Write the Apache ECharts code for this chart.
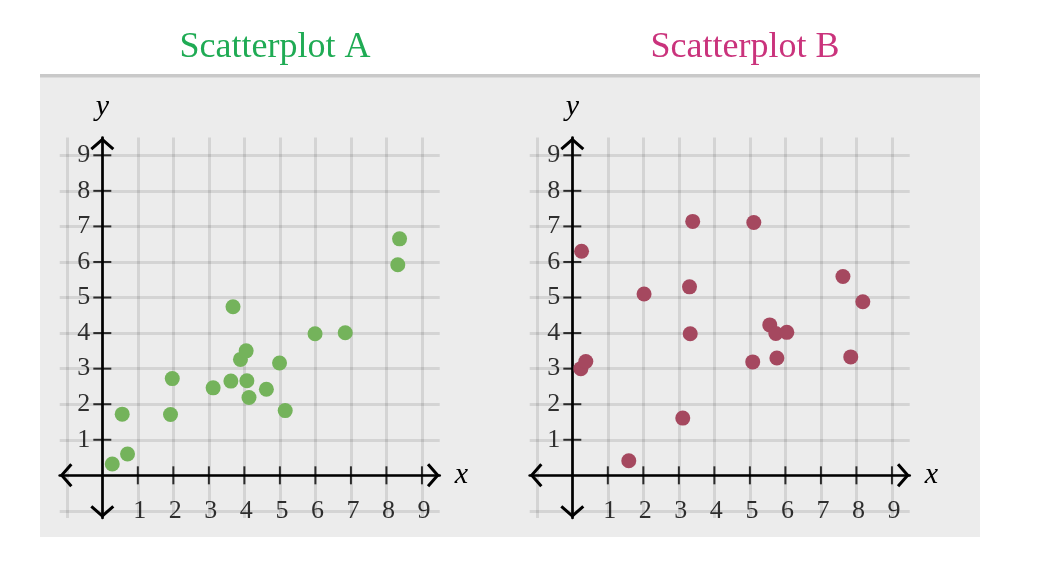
<!DOCTYPE html>
<html><head><meta charset="utf-8">
<script src="https://cdn.jsdelivr.net/npm/echarts@6/dist/echarts.min.js"></script>
<style>html,body{margin:0;padding:0;background:#fff}#c{width:1052px;height:578px}</style>
</head><body><div id="c"></div><script>
// ---- data ----
const titles = ['Scatterplot A', 'Scatterplot B'];
const gridTicks = [-1, 0, 1, 2, 3, 4, 5, 6, 7, 8, 9];
const tickLabels = [1, 2, 3, 4, 5, 6, 7, 8, 9];
const pointsA = [
  [0.28, 0.32], [0.71, 0.60], [0.56, 1.72], [1.92, 1.71], [1.97, 2.72],
  [3.12, 2.46], [3.62, 2.65], [3.68, 4.74], [3.89, 3.26], [4.05, 3.50],
  [4.07, 2.66], [4.13, 2.19], [4.62, 2.42], [4.99, 3.16], [5.15, 1.82],
  [5.99, 3.98], [6.84, 4.01], [8.32, 5.92], [8.37, 6.65]
];
const pointsB = [
  [0.26, 6.30], [0.24, 3.00], [0.38, 3.20], [1.59, 0.41], [2.02, 5.10],
  [3.11, 1.61], [3.30, 5.30], [3.39, 7.14], [3.32, 3.98], [5.11, 7.11],
  [5.08, 3.19], [5.56, 4.23], [5.73, 3.99], [6.04, 4.02], [5.76, 3.30],
  [7.62, 5.59], [7.84, 3.33], [8.18, 4.88]
];

// ---- style ----
const serif = 'Liberation Serif';
const ink = '#000';
const titleColors = ['#1fab54', '#ca337c'];
const dotColors = ['#74b35b', '#a5485f'];
const chevron = 'path://M0,0 L12,10.5 L10,12.8 L0,4 L-10,12.8 L-12,10.5 Z';
const grids = [
  { left: 59.7, top: 137.5, width: 380, height: 380.5 },
  { left: 529.7, top: 137.5, width: 380, height: 380.5 }
];
const titleCenters = [275, 745];
const labelStyle = { fontFamily: serif, fontSize: 26, color: ink };

function axis(gi, dim) {
  const isX = dim === 'x';
  return {
    gridIndex: gi, type: 'value', min: -1.2, max: 9.5,
    axisLine: { onZero: true, lineStyle: { color: ink, width: 2.7 },
      symbol: [chevron, chevron], symbolSize: [24, 12.8], symbolOffset: [6.4, -6.4] },
    axisTick: { show: false, customValues: gridTicks },
    axisLabel: { show: false },
    splitLine: { show: true, lineStyle: { color: 'rgba(0,0,0,0.1)', width: 3 } },
    name: dim, nameLocation: 'end', nameGap: isX ? 15 : 15,
    nameTextStyle: { fontFamily: serif, fontStyle: 'italic', fontSize: 30, color: ink,
      padding: isX ? [8, 0, 0, 0] : 0 }
  };
}

const series = [];
[pointsA, pointsB].forEach((pts, gi) => {
  series.push({
    type: 'scatter', xAxisIndex: gi, yAxisIndex: gi, silent: true, z: 3,
    symbol: 'rect', symbolSize: [2, 18], itemStyle: { color: ink },
    label: Object.assign({ show: true, position: 'bottom', distance: 14, offset: [2, 0],
      formatter: p => String(p.value[0]) }, labelStyle),
    data: tickLabels.map(k => [k, 0])
  });
  series.push({
    type: 'scatter', xAxisIndex: gi, yAxisIndex: gi, silent: true, z: 3,
    symbol: 'rect', symbolSize: [18, 2], itemStyle: { color: ink },
    label: Object.assign({ show: true, position: 'left', distance: 3,
      formatter: p => String(p.value[1]) }, labelStyle),
    data: tickLabels.map(k => [0, k])
  });
  series.push({
    type: 'scatter', xAxisIndex: gi, yAxisIndex: gi, z: 4,
    symbol: 'circle', symbolSize: 15, itemStyle: { color: dotColors[gi], opacity: 1 },
    data: pts
  });
});

const chart = echarts.init(document.getElementById('c'), null, { renderer: 'canvas' });
chart.setOption({
  backgroundColor: '#fff',
  animation: false,
  title: titles.map((t, i) => ({
    text: t, left: titleCenters[i], top: 30, textAlign: 'center', padding: 0,
    textStyle: { fontFamily: serif, fontWeight: 'normal', fontSize: 36, color: titleColors[i] }
  })),
  graphic: [
    { type: 'rect', z: -10, silent: true, shape: { x: 40, y: 77, width: 940, height: 460 }, style: { fill: '#ececec' } },
    { type: 'rect', z: -10, silent: true, shape: { x: 40, y: 74, width: 940, height: 3.5 }, style: { fill: '#c9c9c9' } }
  ],
  grid: grids,
  xAxis: [axis(0, 'x'), axis(1, 'x')],
  yAxis: [axis(0, 'y'), axis(1, 'y')],
  series: series
});
</script></body></html>
